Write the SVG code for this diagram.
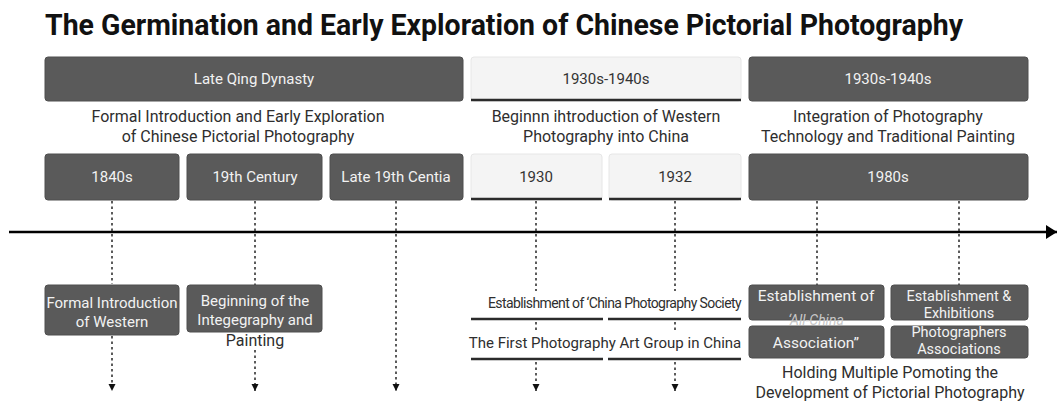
<svg xmlns="http://www.w3.org/2000/svg" width="1059" height="403" viewBox="0 0 1059 403">
<defs>
<style>
.title{font-family:Roboto,"Liberation Sans",Arial,sans-serif;font-weight:700;font-size:30px;fill:#111;}
.dk{fill:#5a5a5a;stroke:#4e4e4e;stroke-width:1;}
.lt{fill:#f4f4f4;stroke:#e6e6e6;stroke-width:1;}
.base{stroke:#2b2b2b;stroke-width:2.5;}
.wt{font-family:Roboto,"Liberation Sans",Arial,sans-serif;font-size:15px;fill:#f2f2f2;text-anchor:middle;}
.bt{font-family:Roboto,"Liberation Sans",Arial,sans-serif;font-size:15px;fill:#333;text-anchor:middle;}
.body{font-family:Roboto,"Liberation Sans",Arial,sans-serif;font-size:16px;fill:#2e2e2e;text-anchor:middle;}
.bw{font-family:Roboto,"Liberation Sans",Arial,sans-serif;font-size:15px;fill:#f2f2f2;text-anchor:middle;}
.dash{stroke:#333;stroke-width:1.6;stroke-dasharray:2.5 3;fill:none;}
.rule{stroke:#2b2b2b;stroke-width:2.5;}
</style>
<marker id="ah" markerWidth="8" markerHeight="8" refX="4" refY="7" orient="0" markerUnits="userSpaceOnUse">
<path d="M0.5,0 L7.5,0 L4,7 Z" fill="#111"/>
</marker>
<marker id="big" markerWidth="12" markerHeight="14" refX="11" refY="7" orient="auto" markerUnits="userSpaceOnUse">
<path d="M0,0 L11,7 L0,14 Z" fill="#000"/>
</marker>
</defs>
<rect width="1059" height="403" fill="#ffffff"/>

<text class="title" x="45" y="35" textLength="918" lengthAdjust="spacingAndGlyphs">The Germination and Early Exploration of Chinese Pictorial Photography</text>

<g id="connectors">
<line x1="9" y1="232" x2="1057" y2="232" stroke="#000" stroke-width="2.5" marker-end="url(#big)"/>
<line class="dash" x1="112" y1="201" x2="112" y2="284"/>
<line class="dash" x1="112" y1="336" x2="112" y2="391" marker-end="url(#ah)"/>
<line class="dash" x1="255" y1="201" x2="255" y2="285"/>
<line class="dash" x1="255" y1="350" x2="255" y2="391" marker-end="url(#ah)"/>
<line class="dash" x1="396" y1="201" x2="396" y2="391" marker-end="url(#ah)"/>
<line class="dash" x1="536" y1="201" x2="536" y2="291"/>
<line class="dash" x1="536" y1="322" x2="536" y2="331"/>
<line class="dash" x1="536" y1="362" x2="536" y2="391" marker-end="url(#ah)"/>
<line class="dash" x1="675" y1="201" x2="675" y2="291"/>
<line class="dash" x1="675" y1="322" x2="675" y2="331"/>
<line class="dash" x1="675" y1="362" x2="675" y2="391" marker-end="url(#ah)"/>
<line class="dash" x1="817" y1="201" x2="817" y2="285"/>
<line class="dash" x1="959" y1="201" x2="959" y2="285"/>
</g>

<g id="era-late-qing">
<rect class="dk" x="45" y="57" width="418" height="44" rx="3"/>
<text class="wt" x="254" y="84">Late Qing Dynasty</text>
<text class="body" x="238" y="122">Formal Introduction and Early Exploration</text>
<text class="body" x="238" y="142">of Chinese Pictorial Photography</text>
</g>

<g id="era-1930s-a">
<rect class="lt" x="471" y="57" width="270" height="44" rx="3"/>
<line class="base" x1="471" y1="100" x2="741" y2="100"/>
<text class="bt" x="606" y="84">1930s-1940s</text>
<text class="body" x="606" y="122">Beginnn ihtroduction of Western</text>
<text class="body" x="606" y="142">Photography into China</text>
</g>

<g id="era-1930s-b">
<rect class="dk" x="749" y="57" width="279" height="44" rx="3"/>
<text class="wt" x="888" y="84">1930s-1940s</text>
<text class="body" x="888" y="122">Integration of Photography</text>
<text class="body" x="888" y="142">Technology and Traditional Painting</text>
</g>

<g id="d-1840s">
<rect class="dk" x="45" y="154" width="134" height="46" rx="3"/>
<text class="wt" x="112" y="182">1840s</text>
</g>
<g id="d-19th">
<rect class="dk" x="187" y="154" width="135" height="46" rx="3"/>
<text class="wt" x="255" y="182">19th Century</text>
</g>
<g id="d-late19th">
<rect class="dk" x="330" y="154" width="133" height="46" rx="3"/>
<text class="wt" x="396" y="182">Late 19th Centia</text>
</g>
<g id="d-1930">
<rect class="lt" x="471" y="154" width="131" height="46" rx="3"/>
<line class="base" x1="471" y1="199" x2="602" y2="199"/>
<text class="bt" x="536" y="182">1930</text>
</g>
<g id="d-1932">
<rect class="lt" x="609" y="154" width="132" height="46" rx="3"/>
<line class="base" x1="609" y1="199" x2="741" y2="199"/>
<text class="bt" x="675" y="182">1932</text>
</g>
<g id="d-1980s">
<rect class="dk" x="749" y="154" width="279" height="46" rx="3"/>
<text class="wt" x="888" y="182">1980s</text>
</g>

<g id="e-formal">
<rect class="dk" x="45" y="285" width="134" height="50" rx="3"/>
<text class="bw" x="112" y="308">Formal Introduction</text>
<text class="bw" x="112" y="327">of Western</text>
</g>
<g id="e-beginning">
<rect class="dk" x="187" y="285" width="135" height="47" rx="3"/>
<text class="bw" x="255" y="306">Beginning of the</text>
<text class="bw" x="255" y="325">Integegraphy and</text>
<text class="body" x="255" y="346">Painting</text>
</g>

<g id="e-society">
<text class="body" x="741" y="308" style="font-size:14px;text-anchor:end;letter-spacing:-0.6px">Establishment of ‘China Photography Society</text>
<line class="rule" x1="471" y1="319" x2="603" y2="319"/>
<line class="rule" x1="608" y1="319" x2="741" y2="319"/>
</g>
<g id="e-first-group">
<text class="body" x="605" y="348" style="font-size:15px">The First Photography Art Group in China</text>
<line class="rule" x1="471" y1="359" x2="603" y2="359"/>
<line class="rule" x1="608" y1="359" x2="741" y2="359"/>
</g>

<g id="e-allchina">
<rect class="dk" x="749" y="285" width="135" height="35" rx="3"/>
<rect class="dk" x="749" y="326" width="135" height="32" rx="3"/>
<text class="bw" x="816" y="301" style="font-size:15.5px">Establishment of</text>
<text class="bw" x="816" y="325" style="font-size:14px;font-style:italic;fill:#c8c8c8">‘All-China</text>
<text class="bw" x="816" y="348" style="font-size:15.5px">Association”</text>
</g>
<g id="e-exhibitions">
<rect class="dk" x="891" y="285" width="137" height="35" rx="3"/>
<rect class="dk" x="891" y="326" width="137" height="32" rx="3"/>
<text class="bw" x="959" y="301" style="font-size:14.5px">Establishment &amp;</text>
<text class="bw" x="959" y="318" style="font-size:14.5px">Exhibitions</text>
<text class="bw" x="959" y="337" style="font-size:14.5px">Photographers</text>
<text class="bw" x="959" y="354" style="font-size:14.5px">Associations</text>
</g>
<g id="e-holding">
<text class="body" x="890" y="378">Holding Multiple Pomoting the</text>
<text class="body" x="890" y="398">Development of Pictorial Photography</text>
</g>
</svg>
